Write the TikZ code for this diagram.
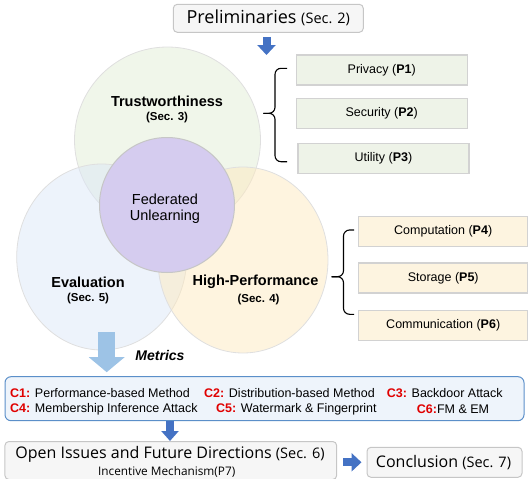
\documentclass[tikz,border=0pt]{standalone}
\usepackage{fontspec}
\setmainfont{Liberation Sans}
\newfontfamily\headfont{Open Sans}
\usetikzlibrary{arrows.meta, positioning, shapes.geometric}

\definecolor{trustfill}{HTML}{E1EDD5}
\definecolor{evalfill}{HTML}{DCE7F7}
\definecolor{perffill}{HTML}{FDE9BF}
\definecolor{fedfill}{HTML}{D5CCEF}
\definecolor{pgreen}{HTML}{EEF3E8}
\definecolor{porange}{HTML}{FDF4E0}
\definecolor{metricfill}{HTML}{EEF4FB}
\definecolor{metricdraw}{HTML}{5B8FC9}
\definecolor{arrowblue}{HTML}{4472C4}
\definecolor{arrowlight}{HTML}{9DC3E6}
\definecolor{cred}{HTML}{E00000}

\newcommand{\ctag}[1]{\textcolor{cred}{\textbf{#1}}}
\newcommand{\fs}[1]{\fontsize{#1}{#1}\selectfont}

\begin{document}
\begin{tikzpicture}[x=1pt, y=-1pt,
    sectbox/.style={draw=gray!45, line width=1pt, rounded corners=4pt, fill=gray!7, inner sep=0pt},
    pbox/.style={draw=gray!35, line width=1.2pt, minimum width=171pt, minimum height=30pt, inner sep=0pt, font=\fs{12.5}},
    venn/.style={ellipse, draw=gray!25, line width=0.8pt, fill opacity=0.5, inner sep=0pt},
    label/.style={inner sep=0pt, align=center},
    item/.style={anchor=west, inner sep=0pt, font=\fs{12.5}},
    bracket/.style={line width=1.1pt, rounded corners=6pt},
    blockarrow/.style={draw=arrowblue, line width=8pt, -{Triangle[width=18pt,length=10pt]}}]
\useasboundingbox (0,0) rectangle (528,479);

% venn part
\node[venn, fill=trustfill, minimum width=186pt, minimum height=186pt] (trust) at (167.5,140) {};
\node[venn, fill=evalfill, minimum width=170pt, minimum height=186pt] (evalc) at (101.7,257) {};
\node[venn, fill=perffill, minimum width=170pt, minimum height=186pt] (perf) at (243,260) {};
\node[circle, draw=gray!45, line width=1pt, fill=fedfill, minimum size=135pt, inner sep=0pt] (fed) at (167,205) {};

\node[label, font=\fs{14.5}\bfseries] (trustlbl) at (167,101) {Trustworthiness};
\node[label, font=\fs{11.5}\bfseries, below=5pt of trustlbl] {(Sec. 3)};
\node[label, font=\fs{14.5}, text height=10.5pt] (fedlbl) at (165,199.5) {Federated};
\node[label, font=\fs{14.5}, below=5pt of fedlbl] {Unlearning};
\node[label, font=\fs{14.5}\bfseries] (evallbl) at (88,282) {Evaluation};
\node[label, font=\fs{11.5}\bfseries, below=5pt of evallbl] {(Sec. 5)};
\node[label, font=\fs{14.5}\bfseries] (perflbl) at (255.5,282) {High-Performance};
\node[label, font=\fs{11.5}\bfseries, below=5pt of perflbl, xshift=3pt] {(Sec. 4)};

% preliminaries
\node[sectbox, minimum width=190pt, minimum height=28pt] (prelim) at (268.3,18.3) {};
\node[label] at (prelim) {\headfont\fs{18}Preliminaries \fs{14.5}(Sec. 2)};
\coordinate (prelimtip) at (266.5,55);
\draw[blockarrow, shorten <=4pt] (prelim.south -| prelimtip) -- (prelimtip);

% trustworthiness goals
\node[pbox, fill=pgreen] (privacy) at (381.7,70) {Privacy (\textbf{P1})};
\node[pbox, fill=pgreen, below=12.3pt of privacy] (security) {Security (\textbf{P2})};
\node[pbox, fill=pgreen, below=14pt of security, xshift=1.7pt] (utility) {Utility (\textbf{P3})};
\coordinate (trusttip) at (263.3,113.3);
\draw[bracket] (287,68.3) -- (275,68.3) -- (275,113.3) -- (trusttip);
\draw[bracket] (287,161.7) -- (275,161.7) -- (275,113.3) -- (trusttip);

% performance goals
\node[pbox, fill=porange, minimum width=169.7pt] (comp) at (443.2,231.7) {Computation (\textbf{P4})};
\node[pbox, fill=porange, minimum width=169.7pt, below=15pt of comp] (storage) {Storage (\textbf{P5})};
\node[pbox, fill=porange, minimum width=169.7pt, below=16.6pt of storage] (comm) {Communication (\textbf{P6})};
\coordinate (perftip) at (331.7,276.7);
\draw[bracket] (354,230) -- (343.5,230) -- (343.5,276.7) -- (perftip);
\draw[bracket] (354,314.3) -- (343.5,314.3) -- (343.5,276.7) -- (perftip);

% metrics
\node[draw=metricdraw, line width=1pt, fill=metricfill, rounded corners=6pt, minimum width=519pt, minimum height=44pt, inner sep=0pt] (metricbox) at (264.5,398.7) {};
\coordinate (metrictail) at (106.7,332);
\draw[draw=arrowlight, line width=17pt, -{Triangle[width=35pt,length=15pt]}, shorten >=4pt] (metrictail) -- (metricbox.north -| metrictail);
\node[label, font=\fs{14}\bfseries\itshape] at (160,355.5) {Metrics};

\node[item] (c1) at (10,392.7) {\ctag{C1:} Performance-based Method};
\node[item] (c2) at (204,392.7) {\ctag{C2:} Distribution-based Method};
\node[item] (c3) at (386.7,392.7) {\ctag{C3:} Backdoor Attack};
\node[item] (c4) at (10,409.3) {\ctag{C4:} Membership Inference Attack};
\node[item] (c5) at (216,409.3) {\ctag{C5:} Watermark \& Fingerprint};
\node[item] (c6) at (416.7,409.3) {\ctag{C6:}FM \& EM};

% open issues and conclusion
\node[sectbox, minimum width=331.7pt, minimum height=38pt] (openbox) at (170.8,460.5) {};
\node[label] (opentxt) at (170,454) {\headfont\fs{16}Open Issues and Future Directions \fs{14.5}(Sec. 6)};
\node[label, font=\headfont\fs{11.8}] (incent) at (166.7,471.5) {Incentive Mechanism(P7)};
\draw[blockarrow, -{Triangle[width=17pt,length=10pt]}] (metricbox.south -| opentxt) -- (openbox.north -| opentxt);

\node[sectbox, minimum width=155pt, minimum height=30pt] (concl) at (444.5,462.3) {};
\node[label] at (443.5,463) {\headfont\fs{16}Conclusion \fs{14.5}(Sec. 7)};
\draw[blockarrow, shorten <=6pt, shorten >=5pt] (openbox.east |- concl) -- (concl.west);
\end{tikzpicture}
\end{document}
